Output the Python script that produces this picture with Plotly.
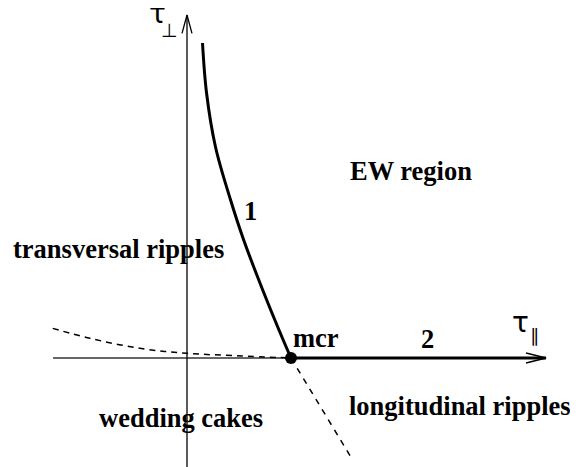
import plotly.graph_objects as go

# --- data (units: mcr point at tau_par = 1, origin at axes crossing) ---
boundary1_x = [0.149, 0.188, 0.274, 0.419, 0.545, 0.728, 0.925, 1.0]
boundary1_y = [3.029, 2.548, 2.029, 1.519, 1.135, 0.654, 0.173, 0.0]

boundary2_x = [1.0, 3.452]
boundary2_y = [0.0, 0.0]

dashed_left_x = [-1.291, -0.933, -0.452, 0.0, 0.478, 1.0]
dashed_left_y = [0.285, 0.189, 0.093, 0.045, 0.022, 0.0]

dashed_down_x = [1.0, 1.587]
dashed_down_y = [0.0, -0.971]

xaxis_x = [-1.288, 1.0]
xaxis_y = [0.0, 0.0]
yaxis_x = [0.0, 0.0]
yaxis_y = [-1.06, 3.298]

xarrow_x = [3.26, 3.452, 3.26]
xarrow_y = [0.048, 0.0, -0.048]
yarrow_x = [-0.048, 0.0, 0.048]
yarrow_y = [3.122, 3.298, 3.122]

mcr_x = [1.0]
mcr_y = [0.0]

region_labels = ["EW region", "1", "transversal ripples", "mcr", "2",
                 "longitudinal ripples", "wedding cakes"]
label_x = [2.154, 0.615, -0.654, 1.2375, 2.308, 2.625, -0.0625]
label_y = [1.798, 1.413, 1.048, 0.192, 0.183, -0.462, -0.577]

axis_symbols = ["τ", "⊥", "τ", "∥"]
axis_symbol_x = [-0.279, -0.168, 3.207, 3.341]
axis_symbol_y = [3.317, 3.154, 0.341, 0.212]
axis_symbol_size = [28, 19, 28, 18]

fig = go.Figure()

def line(x, y, width, dash=None, color="black", shape="linear"):
    fig.add_trace(go.Scatter(x=x, y=y, mode="lines",
                             line=dict(color=color, width=width, dash=dash, shape=shape),
                             hoverinfo="skip", showlegend=False))

line(xaxis_x, xaxis_y, 1.3, color="#333")
line(yaxis_x, yaxis_y, 1.3)
line(xarrow_x, xarrow_y, 1.5)
line(yarrow_x, yarrow_y, 1.3)
line(dashed_left_x, dashed_left_y, 1.5, dash="6px,5px", shape="spline")
line(dashed_down_x, dashed_down_y, 1.5, dash="6px,6px")
line(boundary1_x, boundary1_y, 3, shape="spline")
line(boundary2_x, boundary2_y, 3)

fig.add_trace(go.Scatter(x=mcr_x, y=mcr_y, mode="markers",
                         marker=dict(color="black", size=12),
                         hoverinfo="skip", showlegend=False))

for t, x, y in zip(region_labels, label_x, label_y):
    fig.add_annotation(x=x, y=y, text=t, showarrow=False, xanchor="center", yanchor="middle",
                       font=dict(family="Liberation Serif", size=26.5, color="black", weight="bold"))

for t, x, y, s in zip(axis_symbols, axis_symbol_x, axis_symbol_y, axis_symbol_size):
    fig.add_annotation(x=x, y=y, text=t, showarrow=False, xanchor="center", yanchor="middle",
                       font=dict(family="DejaVu Sans", size=s, color="black"))

# the page body has an 8px margin; size the figure and axis ranges to fill the rest
fig.update_layout(
    width=570, height=459,
    margin=dict(l=0, r=0, t=0, b=0),
    paper_bgcolor="white", plot_bgcolor="white",
    xaxis=dict(range=[(8 - 187) / 104, 391 / 104], visible=False, fixedrange=True),
    yaxis=dict(range=[-109 / 104, 350 / 104], visible=False, fixedrange=True),
)

fig.write_html("out.html")
